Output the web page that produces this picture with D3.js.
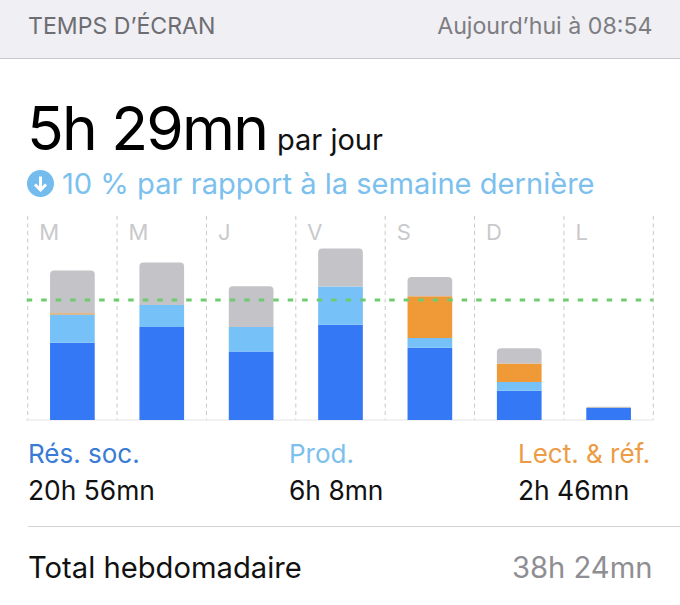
<!DOCTYPE html>
<html>
<head>
<meta charset="utf-8">
<script src="https://cdn.jsdelivr.net/npm/d3@7"></script>
<style>
  html, body { margin: 0; padding: 0; background: #fff; overflow: hidden; }
  text { font-family: Inter, Roboto, sans-serif; }
</style>
</head>
<body>
<div id="chart"></div>
<script>
// values, in minutes per day
var days = ["M", "M", "J", "V", "S", "D", "L"];
var dayIds = ["lun", "mar", "mer", "jeu", "ven", "sam", "dim"];
var social = [212, 255, 188, 261, 198, 80, 33];
var prod = [77, 60, 67, 105, 27, 24, 0];
var lecture = [4, 0, 0, 0, 114, 51, 0];
var other = [117, 117, 112, 104, 53, 42, 3];
var average = 329;

var legendNames = ["Rés. soc.", "Prod.", "Lect. & réf."];
var legendValues = ["20h 56mn", "6h 8mn", "2h 46mn"];
var legendColors = ["#3a7bd5", "#7cc0ee", "#ec9c45"];

var width = 680, height = 605;
var plot = {left: 27.7, right: 653.3, top: 216, bottom: 420};

var svg = d3.select("#chart").append("svg")
    .attr("width", width)
    .attr("height", height)
    .style("display", "block");

// header strip
svg.append("rect").attr("width", width).attr("height", 58).attr("fill", "#efeff4");
svg.append("line").attr("x1", 0).attr("x2", width).attr("y1", 58.5).attr("y2", 58.5).attr("stroke", "#c8c7cc");
svg.append("text").attr("x", 28).attr("y", 33.5).attr("font-size", 23.1).attr("fill", "#6d6d72").text("TEMPS D’ÉCRAN");
svg.append("text").attr("x", 652.5).attr("y", 33.5).attr("font-size", 23.2).attr("fill", "#7d7d82").attr("text-anchor", "end").text("Aujourd’hui à 08:54");

// headline
svg.append("text").attr("x", 27).attr("y", 149.5).attr("font-size", 60.5).attr("letter-spacing", -1.8).attr("fill", "#000").text("5h 29mn");
svg.append("text").attr("x", 277).attr("y", 149.5).attr("font-size", 29).attr("fill", "#111").text("par jour");

// arrow badge
var badge = svg.append("g").attr("transform", "translate(40.5,183.5)");
badge.append("circle").attr("r", 13.5).attr("fill", "#74bcee");
badge.append("path").attr("d", "M0,-7V6M-5.5,1L0,6.5L5.5,1").attr("fill", "none").attr("stroke", "#fff").attr("stroke-width", 3);
svg.append("text").attr("x", 62).attr("y", 194).attr("font-size", 29.1).attr("fill", "#7cc0ee").text("10 % par rapport à la semaine dernière");

// scales
var x = d3.scaleBand().domain(dayIds).range([plot.left, plot.right]);
var y = d3.scaleLinear().domain([0, average]).range([plot.bottom, 300]);

// day gridlines
var gridX = dayIds.map(function(d) { return x(d); }).concat([plot.right]);
svg.append("g").selectAll("line").data(gridX).enter().append("line")
    .attr("x1", function(d) { return d; })
    .attr("x2", function(d) { return d; })
    .attr("y1", plot.top)
    .attr("y2", plot.bottom)
    .attr("stroke", "#c9c9cc")
    .attr("stroke-width", 1)
    .attr("stroke-dasharray", "4,3.5");

// baseline
svg.append("line").attr("x1", plot.left - 2).attr("x2", plot.right).attr("y1", plot.bottom).attr("y2", plot.bottom).attr("stroke", "#e4e4e6");

// day letters
svg.append("g").selectAll("text").data(days).enter().append("text")
    .attr("x", function(d, i) { return x(dayIds[i]) + 11.5; })
    .attr("y", 239.5)
    .attr("font-size", 22)
    .attr("fill", "#c9c9cc")
    .text(function(d) { return d; });

// stacked bars
var rows = dayIds.map(function(d, i) {
  return {day: d, social: social[i], prod: prod[i], lecture: lecture[i], other: other[i]};
});
var keys = ["social", "prod", "lecture", "other"];
var fills = {social: "#3478f6", prod: "#76c1f7", lecture: "#f09a37", other: "#c4c3c8"};
var stacked = d3.stack().keys(keys)(rows);

var barW = x.bandwidth() / 2;

// top corners of the last segment are rounded
function segment(xLeft, y0, y1, r) {
  var rr = Math.min(r, y0 - y1);
  return "M" + xLeft + "," + y0 + "V" + (y1 + rr) + "Q" + xLeft + "," + y1 + " " + (xLeft + rr) + "," + y1 +
    "H" + (xLeft + barW - rr) + "Q" + (xLeft + barW) + "," + y1 + " " + (xLeft + barW) + "," + (y1 + rr) + "V" + y0 + "Z";
}

stacked.forEach(function(layer) {
  svg.append("g").attr("fill", fills[layer.key]).selectAll("path")
    .data(layer.filter(function(d) { return d[1] > d[0]; }))
    .enter().append("path")
      .attr("d", function(d) {
        var isTop = d[1] === d3.sum(keys, function(k) { return d.data[k]; });
        return segment(x(d.data.day) + barW / 2, y(d[0]), y(d[1]), isTop ? 4 : 0);
      });
});

// average line
svg.append("line")
    .attr("x1", plot.left - 1)
    .attr("x2", plot.right)
    .attr("y1", y(average))
    .attr("y2", y(average))
    .attr("stroke", "#6fcb6f")
    .attr("stroke-width", 3)
    .attr("stroke-dasharray", "5.5,9");

// legend
var legendX = [28, 289, 518];
svg.append("g").selectAll("text").data(legendNames).enter().append("text")
    .attr("x", function(d, i) { return legendX[i]; })
    .attr("y", 463)
    .attr("font-size", 26)
    .attr("fill", function(d, i) { return legendColors[i]; })
    .text(function(d) { return d; });
svg.append("g").selectAll("text").data(legendValues).enter().append("text")
    .attr("x", function(d, i) { return legendX[i]; })
    .attr("y", 500)
    .attr("font-size", 26.4)
    .attr("fill", "#111")
    .text(function(d) { return d; });

// footer
svg.append("line").attr("x1", 28).attr("x2", width).attr("y1", 526.5).attr("y2", 526.5).attr("stroke", "#d2d2d6");
svg.append("text").attr("x", 28).attr("y", 577.5).attr("font-size", 29.2).attr("fill", "#111").text("Total hebdomadaire");
svg.append("text").attr("x", 652.5).attr("y", 577.5).attr("font-size", 29.2).attr("fill", "#8e8e93").attr("text-anchor", "end").text("38h 24mn");
</script>
</body>
</html>
